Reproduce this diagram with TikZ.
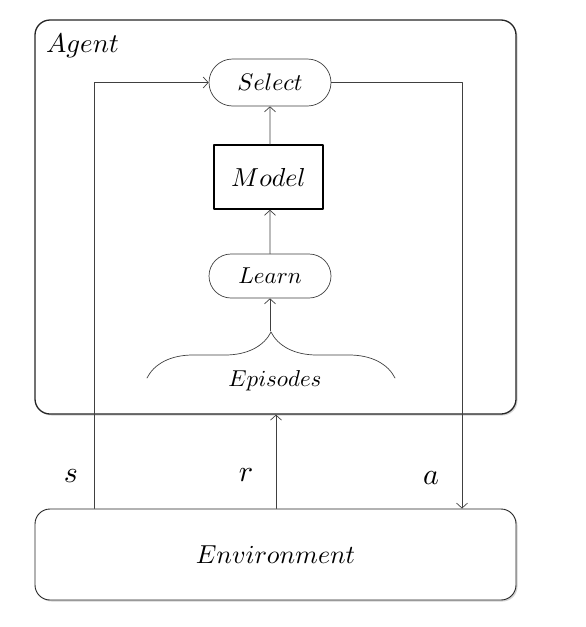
\documentclass[tikz,border=0pt]{standalone}
\usepackage{amsmath}
\usepackage{tikz}
\usetikzlibrary{positioning, arrows.meta, shapes.misc, shadows, decorations.pathreplacing}

\DeclareFontShape{OML}{cmm}{m}{it}{<-> cmmi10}{}
\newcommand{\fs}[1]{\fontsize{#1}{#1}\selectfont}

\begin{document}
\begin{tikzpicture}[x=1pt, y=-1pt, line cap=round, line join=round,
    frame/.style={draw=black!85, line width=1.3pt, rounded corners=15pt,
        fill=white, drop shadow={shadow xshift=1.5pt, shadow yshift=-1.5pt, opacity=0.35}},
    pill/.style={draw=black!75, line width=0.7pt, rounded rectangle, fill=white,
        minimum width=122pt, inner sep=0pt},
    block/.style={draw=black, line width=1.6pt, minimum width=109pt,
        minimum height=64pt, inner sep=0pt},
    flow/.style={draw=black!75, line width=0.7pt, -{Straight Barb[length=5pt, width=11pt]}}]
    \useasboundingbox (0,0) rectangle (586,627);
    % outer boxes
    \node[frame, minimum width=481pt, minimum height=394pt] (agent) at (275.5,217) {};
    \node[frame, line width=0.9pt, minimum width=481pt, minimum height=91pt] (env) at (275.5,554.5)
        {\fs{26}$Environment$};
    \node[anchor=west, inner sep=0pt] (agentlbl) at (46,46) {\fs{27}$Agent$};
    % inner chain
    \node[pill, minimum height=47pt] (select) at (270,82.5) {\fs{24}$Select$};
    \node[block] (model) at (268.5,177) {\fs{26}$Model$};
    \node[pill, minimum height=44pt] (learn) at (270,276) {\fs{23}$Learn$};
    \draw[flow] (model.north -| select) -- (select);
    \draw[flow] (learn) -- (learn |- model.south);
    % episodes brace
    \draw[draw=black!75, line width=0.7pt, decorate, decoration={brace, amplitude=46pt}]
        (147,378) -- (395,378);
    \coordinate (tip) at (270,331);
    \draw[flow] (tip) -- (learn);
    \node (episodes) at (275,381) {\fs{23}$Episodes$};
    % loop between agent and environment
    \coordinate (sx) at (94,0);
    \coordinate (rx) at (276,0);
    \coordinate (ax) at (462,0);
    \draw[flow] (sx |- env.north) |- (select);
    \draw[flow] (select) -| (ax |- env.north);
    \draw[flow] (rx |- env.north) -- (rx |- agent.south);
    \node (slbl) at (71,476) {\fs{30}$s$};
    \node (rlbl) at (246,475) {\fs{30}$r$};
    \node (albl) at (431,478) {\fs{30}$a$};
\end{tikzpicture}
\end{document}
